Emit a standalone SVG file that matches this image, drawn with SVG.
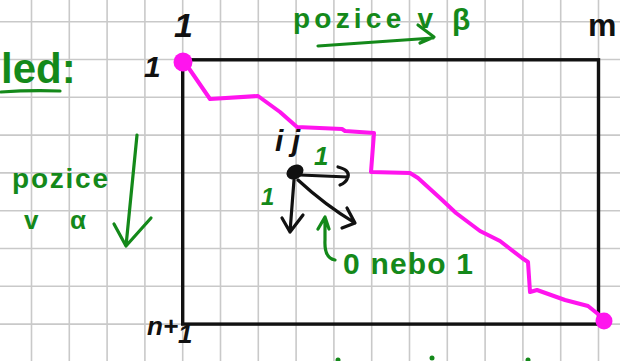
<svg xmlns="http://www.w3.org/2000/svg" width="620" height="361" viewBox="0 0 620 361">
<style>
.grid line{stroke:#c9c9c9;stroke-width:1.6}
text{font-family:"Liberation Sans","DejaVu Sans",sans-serif;font-weight:bold}
.g{fill:#14891a}
.k{fill:#111}
.gs{fill:none;stroke:#14891a;stroke-width:3.2;stroke-linecap:round;stroke-linejoin:round}
.ks{fill:none;stroke:#111;stroke-width:3.2;stroke-linecap:round;stroke-linejoin:round}
.mp{fill:none;stroke:#ff14ee;stroke-width:4;stroke-linejoin:round;stroke-linecap:round}
</style>
<rect width="620" height="361" fill="#fff"/>
<g class="grid" id="grid">
<line x1="31.5" y1="0" x2="31.5" y2="361"/><line x1="69.3" y1="0" x2="69.3" y2="361"/><line x1="107.1" y1="0" x2="107.1" y2="361"/><line x1="144.9" y1="0" x2="144.9" y2="361"/><line x1="182.7" y1="0" x2="182.7" y2="361"/><line x1="220.5" y1="0" x2="220.5" y2="361"/><line x1="258.3" y1="0" x2="258.3" y2="361"/><line x1="296.1" y1="0" x2="296.1" y2="361"/><line x1="333.9" y1="0" x2="333.9" y2="361"/><line x1="371.7" y1="0" x2="371.7" y2="361"/><line x1="409.5" y1="0" x2="409.5" y2="361"/><line x1="447.3" y1="0" x2="447.3" y2="361"/><line x1="485.1" y1="0" x2="485.1" y2="361"/><line x1="522.9" y1="0" x2="522.9" y2="361"/><line x1="560.7" y1="0" x2="560.7" y2="361"/><line x1="598.5" y1="0" x2="598.5" y2="361"/>
<line x1="0" y1="21.7" x2="620" y2="21.7"/><line x1="0" y1="59.5" x2="620" y2="59.5"/><line x1="0" y1="97.3" x2="620" y2="97.3"/><line x1="0" y1="135.1" x2="620" y2="135.1"/><line x1="0" y1="172.9" x2="620" y2="172.9"/><line x1="0" y1="210.7" x2="620" y2="210.7"/><line x1="0" y1="248.5" x2="620" y2="248.5"/><line x1="0" y1="286.3" x2="620" y2="286.3"/><line x1="0" y1="324.1" x2="620" y2="324.1"/>
</g>

<g id="matrix">
<rect x="182.7" y="59.8" width="415.8" height="264.3" fill="none" stroke="#111" stroke-width="3.4"/>
<text class="k" x="174" y="37" font-size="34" font-style="italic">1</text>
<text class="k" x="144" y="77" font-size="30" font-style="italic">1</text>
<text class="k" x="588" y="36" font-size="32">m</text>
<text class="k" x="147" y="335" font-size="26" font-style="italic">n+<tspan dy="8">1</tspan></text>
</g>

<g id="warp-path">
<path class="mp" d="M183,62 L188,67 L210,99 L258,96 L280,112 L297,127 L342,129 L345,131 L374,133 L371,172 L410,173 L418,178 L440,198 L456,213 L480,231 L500,241 L522,258 L528,262 L530,292 L537,290 L565,300 L588,306 L603,318"/>
<circle cx="183" cy="62" r="9.5" fill="#ff14ee"/>
<circle cx="604" cy="321" r="8.5" fill="#ff14ee"/>
</g>

<g id="node-ij">
<ellipse cx="295" cy="172" rx="9" ry="7" transform="rotate(-30 295 172)" fill="#111"/>
<text class="k" x="275" y="151" font-size="30" font-style="italic" textLength="25" lengthAdjust="spacing">ij</text>
</g>

<g id="connectors">
<path class="ks" d="M300,175 L348,177 M338,167 Q350,170 348,177 Q346,183 340,185"/>
<path class="ks" d="M294,180 L290,232 M282,218 L290,232 L303,215"/>
<path class="ks" d="M298,180 Q325,205 355,223 M347,208 L355,223 L342,228"/>
<path class="gs" d="M335,260 Q324,258 325,240 L325,218 M318,229 L325,217 L329,229"/>
<path class="gs" d="M318,46 L433,38 M418,25 L434,37 L420,43"/>
<path class="gs" d="M137,135 L126,246 M114,224 L126,246 L151,218"/>
<path class="gs" d="M1,92 Q30,90 60,91"/>
</g>

<g id="labels">
<text class="g" x="314" y="165" font-size="26" font-style="italic">1</text>
<text class="g" x="261" y="205" font-size="24" font-style="italic">1</text>
<text class="g" x="343" y="274" font-size="30" textLength="130" lengthAdjust="spacing">0 nebo 1</text>
<text class="g" x="293" y="28" font-size="28" textLength="140" lengthAdjust="spacing">pozice v</text>
<text class="g" x="452" y="30" font-size="30">β</text>
<text class="g" x="1" y="83" font-size="42">led:</text>
<text class="g" x="12" y="188" font-size="28" textLength="96" lengthAdjust="spacing">pozice</text>
<text class="g" x="24" y="229" font-size="26" textLength="62" lengthAdjust="spacing">v α</text>
<circle cx="338" cy="360" r="2.5" fill="#14891a"/>
<circle cx="432" cy="358" r="2.5" fill="#14891a"/>
<circle cx="528" cy="360" r="2.5" fill="#14891a"/>
</g>
</svg>
